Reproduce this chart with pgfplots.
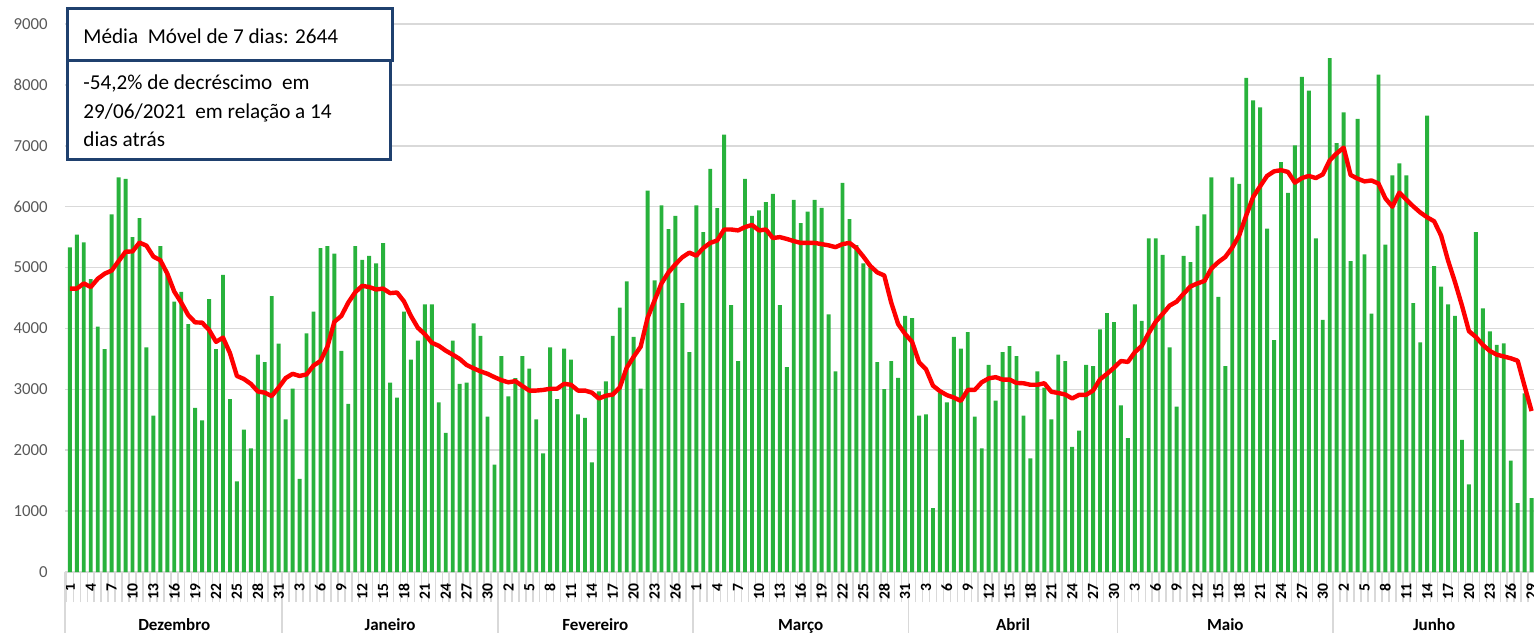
\documentclass[border=0pt]{standalone}
\usepackage{pgfplots}
\pgfplotsset{compat=1.18}
\usepackage{pgfplotstable}
\usepackage{fontspec}
\setmainfont{Carlito}
\definecolor{barg}{RGB}{40,178,60}
\definecolor{boxb}{RGB}{31,64,110}
\definecolor{gridc}{RGB}{217,217,217}
\definecolor{labc}{RGB}{89,89,89}

\pgfplotstableread{
i c m
0 5330 4655
1 5540 4655
2 5415 4740
3 4810 4680
4 4030 4815
5 3660 4900
6 5875 4950
7 6480 5105
8 6455 5260
9 5500 5265
10 5810 5410
11 3690 5360
12 2570 5180
13 5350 5120
14 4900 4900
15 4440 4605
16 4600 4425
17 4070 4220
18 2695 4100
19 2490 4095
20 4480 3975
21 3660 3780
22 4880 3850
23 2840 3595
24 1490 3220
25 2340 3170
26 2030 3090
27 3570 2965
28 3445 2945
29 4530 2890
30 3750 3030
31 2505 3185
32 3010 3255
33 1530 3220
34 3920 3245
35 4275 3390
36 5320 3465
37 5350 3700
38 5230 4110
39 3630 4205
40 2760 4425
41 5350 4595
42 5125 4700
43 5190 4680
44 5070 4640
45 5400 4655
46 3110 4580
47 2865 4590
48 4275 4445
49 3490 4205
50 3800 4010
51 4395 3905
52 4395 3765
53 2785 3715
54 2285 3635
55 3800 3570
56 3090 3500
57 3110 3400
58 4085 3345
59 3880 3295
60 2550 3255
61 1765 3200
62 3545 3150
63 2885 3115
64 3185 3135
65 3545 3055
66 3340 2980
67 2505 2980
68 1950 2990
69 3690 3010
70 2840 3010
71 3670 3090
72 3490 3075
73 2590 2980
74 2530 2980
75 1800 2945
76 2965 2850
77 3130 2895
78 3880 2915
79 4340 3030
80 4775 3355
81 3860 3535
82 3010 3700
83 6265 4175
84 4790 4460
85 6020 4740
86 5630 4920
87 5850 5055
88 4415 5170
89 3610 5245
90 6020 5195
91 5580 5320
92 6620 5405
93 5975 5445
94 7185 5625
95 4385 5625
96 3465 5610
97 6455 5665
98 5850 5700
99 5940 5610
100 6075 5625
101 6210 5485
102 4385 5500
103 3365 5470
104 6110 5435
105 5730 5405
106 5920 5405
107 6110 5405
108 5980 5385
109 4230 5365
110 3295 5335
111 6390 5385
112 5795 5405
113 5370 5320
114 5070 5180
115 4990 5025
116 3445 4920
117 3005 4870
118 3465 4425
119 3190 4070
120 4205 3910
121 4170 3780
122 2570 3445
123 2590 3330
124 1050 3060
125 2945 2970
126 2785 2905
127 3860 2865
128 3670 2810
129 3940 2990
130 2550 2990
131 2030 3115
132 3400 3180
133 2815 3200
134 3610 3160
135 3710 3160
136 3545 3105
137 2570 3100
138 1865 3075
139 3295 3075
140 3030 3100
141 2505 2960
142 3570 2940
143 3465 2915
144 2055 2850
145 2320 2910
146 3400 2910
147 3380 2980
148 3985 3165
149 4250 3255
150 4105 3355
151 2735 3465
152 2200 3450
153 4395 3610
154 4125 3715
155 5480 3925
156 5480 4110
157 5210 4240
158 3690 4375
159 2715 4440
160 5190 4570
161 5090 4690
162 5685 4740
163 5875 4780
164 6480 4985
165 4520 5090
166 3380 5175
167 6480 5330
168 6375 5530
169 8115 5855
170 7745 6160
171 7630 6335
172 5640 6505
173 3810 6580
174 6730 6600
175 6225 6570
176 7005 6395
177 8130 6470
178 7905 6505
179 5480 6470
180 4140 6530
181 8440 6760
182 7045 6875
183 7550 6970
184 5105 6520
185 7440 6460
186 5215 6415
187 4245 6430
188 8170 6380
189 5375 6135
190 6515 6000
191 6710 6230
192 6515 6115
193 4415 6005
194 3770 5905
195 7495 5825
196 5025 5760
197 4685 5525
198 4395 5115
199 4205 4760
200 2170 4375
201 1440 3955
202 5580 3860
203 4330 3730
204 3950 3630
205 3730 3570
206 3755 3540
207 1830 3510
208 1130 3470
209 2935 3050
210 1215 2644
}\data

\begin{document}
\begin{tikzpicture}
\useasboundingbox (-32.5pt,-30.5pt) rectangle (734.5pt,286pt);
\begin{axis}[
  at={(0pt,0pt)}, anchor=south west,
  scale only axis, width=734.5pt, height=274pt,
  clip=false,
  xmin=-0.7, xmax=210.35, ymin=0, ymax=9000,
  axis x line*=bottom, axis y line*=left,
  y axis line style={draw=none},
  x axis line style={draw=gridc, line width=0.75pt},
  ytick={0,1000,...,9000},
  ymajorgrids, grid style={gridc, line width=0.75pt},
  major tick length=0pt,
  /pgf/number format/assume math mode=true,
  /pgf/number format/1000 sep={},
  yticklabel style={font=\fontsize{8.4}{10}\selectfont, text=labc, inner sep=0pt},
  yticklabel shift=8.5pt,
  xtick={0,3,...,210},
  xticklabels={1,4,7,10,13,16,19,22,25,28,31,3,6,9,12,15,18,21,24,27,30,2,5,8,11,14,17,20,23,26,1,4,7,10,13,16,19,22,25,28,31,3,6,9,12,15,18,21,24,27,30,3,6,9,12,15,18,21,24,27,30,2,5,8,11,14,17,20,23,26,29},
  xticklabel style={rotate=90, anchor=east, font=\fontsize{7.8}{9}\selectfont\bfseries, inner sep=0pt},
  xticklabel shift=5.5pt,
  minor xtick={-0.5,0.5,...,210.5},
  minor tick length=15pt,
  tick align=outside,
  xtick pos=left,
  minor tick style={draw=gridc, line width=0.75pt},
]
\addplot[ybar, bar width=0.56, fill=barg, draw=none] table[x=i,y=c]{\data};
\addplot[red, line width=2.2pt, line join=round, no marks] table[x=i,y=m]{\data};
\draw[gridc, line width=0.75pt] (rel axis cs:0,0) -- ++(0pt,-30.5pt);
\draw[gridc, line width=0.75pt] ([yshift=-15pt]axis cs:30.5,0) -- ++(0pt,-15.5pt);
\draw[gridc, line width=0.75pt] ([yshift=-15pt]axis cs:61.5,0) -- ++(0pt,-15.5pt);
\draw[gridc, line width=0.75pt] ([yshift=-15pt]axis cs:89.5,0) -- ++(0pt,-15.5pt);
\draw[gridc, line width=0.75pt] ([yshift=-15pt]axis cs:120.5,0) -- ++(0pt,-15.5pt);
\draw[gridc, line width=0.75pt] ([yshift=-15pt]axis cs:150.5,0) -- ++(0pt,-15.5pt);
\draw[gridc, line width=0.75pt] ([yshift=-15pt]axis cs:181.5,0) -- ++(0pt,-15.5pt);
\node[anchor=base, inner sep=0pt, font=\fontsize{8.5}{10}\selectfont\bfseries] at ([yshift=-29pt]axis cs:15,0) {Dezembro};
\node[anchor=base, inner sep=0pt, font=\fontsize{8.5}{10}\selectfont\bfseries] at ([yshift=-29pt]axis cs:46,0) {Janeiro};
\node[anchor=base, inner sep=0pt, font=\fontsize{8.5}{10}\selectfont\bfseries] at ([yshift=-29pt]axis cs:75.5,0) {Fevereiro};
\node[anchor=base, inner sep=0pt, font=\fontsize{8.5}{10}\selectfont\bfseries] at ([yshift=-29pt]axis cs:105,0) {Março};
\node[anchor=base, inner sep=0pt, font=\fontsize{8.5}{10}\selectfont\bfseries] at ([yshift=-29pt]axis cs:135.5,0) {Abril};
\node[anchor=base, inner sep=0pt, font=\fontsize{8.5}{10}\selectfont\bfseries] at ([yshift=-29pt]axis cs:166,0) {Maio};
\node[anchor=base, inner sep=0pt, font=\fontsize{8.5}{10}\selectfont\bfseries] at ([yshift=-29pt]axis cs:196,0) {Junho};
\end{axis}
\draw[boxb, line width=1.5pt, fill=white] (1pt,255.5pt) rectangle (163.5pt,281.5pt);
\draw[boxb, line width=1.5pt, fill=white] (1pt,206.5pt) rectangle (162.5pt,255.5pt);
\node[anchor=base west, inner sep=0pt, font=\fontsize{10.6}{12}\selectfont] at (9pt,264.4pt) {Média\ \ Móvel de 7 dias: 2644};
\node[anchor=base west, inner sep=0pt, font=\fontsize{10.6}{12}\selectfont] at (9pt,241.4pt) {-54,2\% de decréscimo\ \ em};
\node[anchor=base west, inner sep=0pt, font=\fontsize{10.6}{12}\selectfont] at (9pt,226.9pt) {29/06/2021\ \ em relação a 14};
\node[anchor=base west, inner sep=0pt, font=\fontsize{10.6}{12}\selectfont] at (9pt,212.6pt) {dias atrás};
\end{tikzpicture}
\end{document}
